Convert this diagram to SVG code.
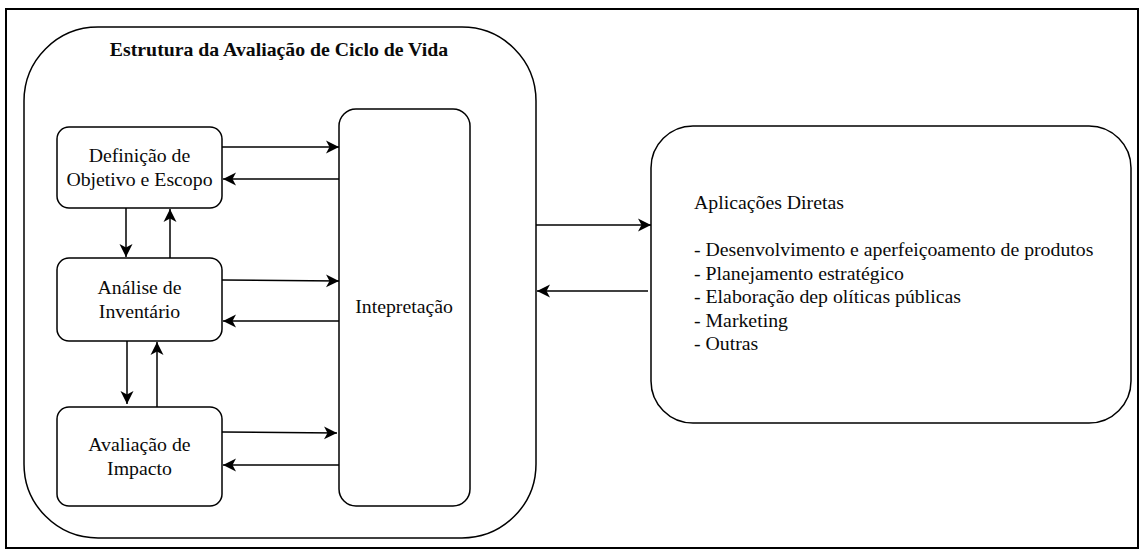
<svg xmlns="http://www.w3.org/2000/svg" width="1141" height="551" viewBox="0 0 1141 551">
  <style>
    .box { fill: #ffffff; stroke: #000000; stroke-width: 1.5; }
    .frame { fill: #ffffff; stroke: #000000; stroke-width: 2; }
    text { font-family: 'Liberation Serif', 'Times New Roman', serif; font-size: 18px; fill: #0a0a0a; }
    .mid { text-anchor: middle; }
    .bold { font-weight: bold; }
    .edge { fill: none; stroke: #000000; stroke-width: 1.5; marker-end: url(#arrow); }
  </style>
  <defs>
    <!-- classic notched arrowhead -->
    <marker id="arrow" markerUnits="userSpaceOnUse" markerWidth="14" markerHeight="14" viewBox="0 0 14 14" refX="13" refY="7" orient="auto">
      <path d="M0,0.5 L13,7 L0,13.5 L3.5,7 Z" fill="#000000"/>
    </marker>
  </defs>

  <!-- page frame -->
  <rect class="frame" x="6" y="9" width="1132" height="539"/>

  <!-- life cycle assessment framework container -->
  <g id="estrutura-acv">
    <rect class="box" x="24" y="27" width="512" height="511" rx="74" ry="74"/>
    <g transform="scale(1.1 1)">
      <text class="mid bold" x="253.6" y="56">Estrutura da Avaliação de Ciclo de Vida</text>
    </g>
  </g>

  <g id="definicao">
    <rect class="box" x="57" y="127" width="165" height="81" rx="12" ry="12"/>
    <g transform="scale(1.1 1)">
      <text class="mid" x="126.8" y="162">Definição de</text>
      <text class="mid" x="126.8" y="186">Objetivo e Escopo</text>
    </g>
  </g>

  <g id="analise">
    <rect class="box" x="57" y="258" width="165" height="83" rx="12" ry="12"/>
    <g transform="scale(1.1 1)">
      <text class="mid" x="126.8" y="294">Análise de</text>
      <text class="mid" x="126.8" y="318">Inventário</text>
    </g>
  </g>

  <g id="avaliacao">
    <rect class="box" x="57" y="407" width="165" height="99" rx="12" ry="12"/>
    <g transform="scale(1.1 1)">
      <text class="mid" x="126.8" y="451">Avaliação de</text>
      <text class="mid" x="126.8" y="475">Impacto</text>
    </g>
  </g>

  <g id="interpretacao">
    <rect class="box" x="339" y="109" width="131" height="397" rx="17" ry="17"/>
    <g transform="scale(1.1 1)">
      <text class="mid" x="367.3" y="313">Intepretação</text>
    </g>
  </g>

  <g id="aplicacoes">
    <rect class="box" x="651" y="126" width="480" height="297" rx="42" ry="42"/>
    <g transform="scale(1.1 1)">
      <text x="630.9" y="209">Aplicações Diretas</text>
      <text x="630.9" y="256.5">- Desenvolvimento e aperfeiçoamento de produtos</text>
      <text x="630.9" y="280">- Planejamento estratégico</text>
      <text x="630.9" y="303.5">- Elaboração dep olíticas públicas</text>
      <text x="630.9" y="327">- Marketing</text>
      <text x="630.9" y="350.5">- Outras</text>
    </g>
  </g>

  <g id="connectors">
    <!-- phases to interpretation and back -->
    <path class="edge" d="M222,147 L339,147"/>
    <path class="edge" d="M339,179 L223,179"/>
    <path class="edge" d="M222,280 L339,281"/>
    <path class="edge" d="M339,321 L223,321"/>
    <path class="edge" d="M222,432 L337,433"/>
    <path class="edge" d="M339,465 L223,465"/>
    <!-- vertical flow between phases -->
    <path class="edge" d="M126,208 L126,257"/>
    <path class="edge" d="M170,258 L170,209"/>
    <path class="edge" d="M127,341 L127,404"/>
    <path class="edge" d="M157,407 L157,342"/>
    <!-- framework to direct applications -->
    <path class="edge" d="M536,225 L651,225"/>
    <path class="edge" d="M648,291 L537,291"/>
  </g>
</svg>
